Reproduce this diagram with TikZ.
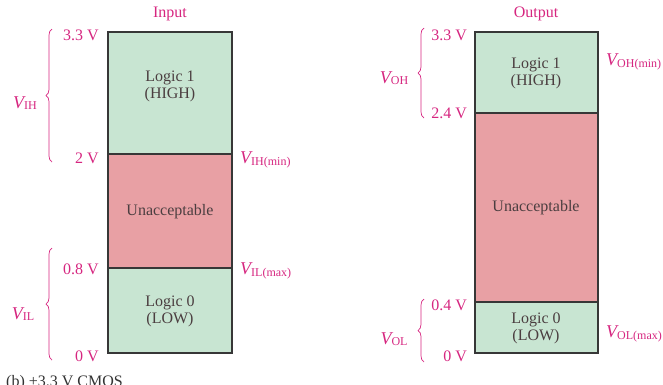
\documentclass[tikz,border=0pt]{standalone}
\usepackage{fontspec}
\setmainfont{Liberation Serif}
\usetikzlibrary{decorations.pathreplacing}
\definecolor{mag}{RGB}{214,38,128}
\definecolor{okgreen}{RGB}{200,229,210}
\definecolor{badpink}{RGB}{232,160,164}
\definecolor{edge}{RGB}{55,55,55}
\definecolor{boxtext}{RGB}{75,62,64}
\newcommand{\vsub}[2]{{\fontsize{18}{18}\selectfont\itshape #1}\raisebox{-0.35ex}{\fontsize{12}{12}\selectfont #2}}
\tikzset{
  band/.style={draw=edge, line width=1.3pt},
  boxlabel/.style={text=boxtext, font=\fontsize{16}{17}\selectfont, align=center},
  volt/.style={text=mag, font=\fontsize{16}{17}\selectfont, anchor=east, inner sep=0pt},
  sym/.style={text=mag, inner sep=0pt},
  title/.style={text=mag, font=\fontsize{16}{17}\selectfont},
  bracey/.style={draw=mag, line width=0.7pt, decorate, decoration={brace, amplitude=6pt}}
}
\begin{document}
\begin{tikzpicture}[x=1pt, y=-1pt]
\useasboundingbox (0,0) rectangle (663,384);
% ---- Input ----
\node[title] (tin) at (170,14) {Input};
\fill[okgreen] (108,32) rectangle (232,154);
\fill[badpink] (108,154) rectangle (232,268);
\fill[okgreen] (108,268) rectangle (232,353);
\draw[band] (108,154) -- (232,154);
\draw[band] (108,268) -- (232,268);
\draw[band] (108,32) rectangle (232,353);
\node[boxlabel] (in1) at (170,86) {Logic 1\\(HIGH)};
\node[boxlabel] (inu) at (170,212) {Unacceptable};
\node[boxlabel] (in0) at (170,311) {Logic 0\\(LOW)};
\node[volt] (i33) at (99,35) {3.3 V};
\node[volt] (i2) at (99,158) {2 V};
\node[volt] (i08) at (99,269) {0.8 V};
\node[volt] (i0) at (99,356) {0 V};
\node[sym] (vih) at (25,103) {\vsub{V}{IH}};
\node[sym] (vil) at (23,314) {\vsub{V}{IL}};
\node[sym, anchor=west] (vihmin) at (240,160) {\vsub{V}{IH(min)}};
\node[sym, anchor=west] (vilmax) at (240,271) {\vsub{V}{IL(max)}};
\coordinate (bihT) at (52,29);
\coordinate (bihB) at (52,162);
\coordinate (bilT) at (52,248);
\coordinate (bilB) at (52,360);
\draw[bracey] (bihB) -- (bihT);
\draw[bracey] (bilB) -- (bilT);
% ---- Output ----
\node[title] (tout) at (536,14) {Output};
\fill[okgreen] (475,32) rectangle (598,113);
\fill[badpink] (475,113) rectangle (598,302);
\fill[okgreen] (475,302) rectangle (598,353);
\draw[band] (475,113) -- (598,113);
\draw[band] (475,302) -- (598,302);
\draw[band] (475,32) rectangle (598,353);
\node[boxlabel] (out1) at (536,73) {Logic 1\\(HIGH)};
\node[boxlabel] (outu) at (536,208) {Unacceptable};
\node[boxlabel] (out0) at (536,328) {Logic 0\\(LOW)};
\node[volt] (o33) at (467,35) {3.3 V};
\node[volt] (o24) at (467,113) {2.4 V};
\node[volt] (o04) at (467,305) {0.4 V};
\node[volt] (o0) at (467,356) {0 V};
\node[sym] (voh) at (394,78) {\vsub{V}{OH}};
\node[sym] (vol) at (394,339) {\vsub{V}{OL}};
\node[sym, anchor=west] (vohmin) at (606,62) {\vsub{V}{OH(min)}};
\node[sym, anchor=west] (volmax) at (606,334) {\vsub{V}{OL(max)}};
\coordinate (bohT) at (424,28);
\coordinate (bohB) at (424,118);
\coordinate (bolT) at (424,299);
\coordinate (bolB) at (424,362);
\draw[bracey] (bohB) -- (bohT);
\draw[bracey] (bolB) -- (bolT);
% ---- caption (cut at edge, as in the reference) ----
\node[anchor=base west, inner sep=0pt, text=black!80, font=\fontsize{16}{17}\selectfont] (cap) at (6,386) {(b) +3.3 V CMOS};
\end{tikzpicture}
\end{document}
